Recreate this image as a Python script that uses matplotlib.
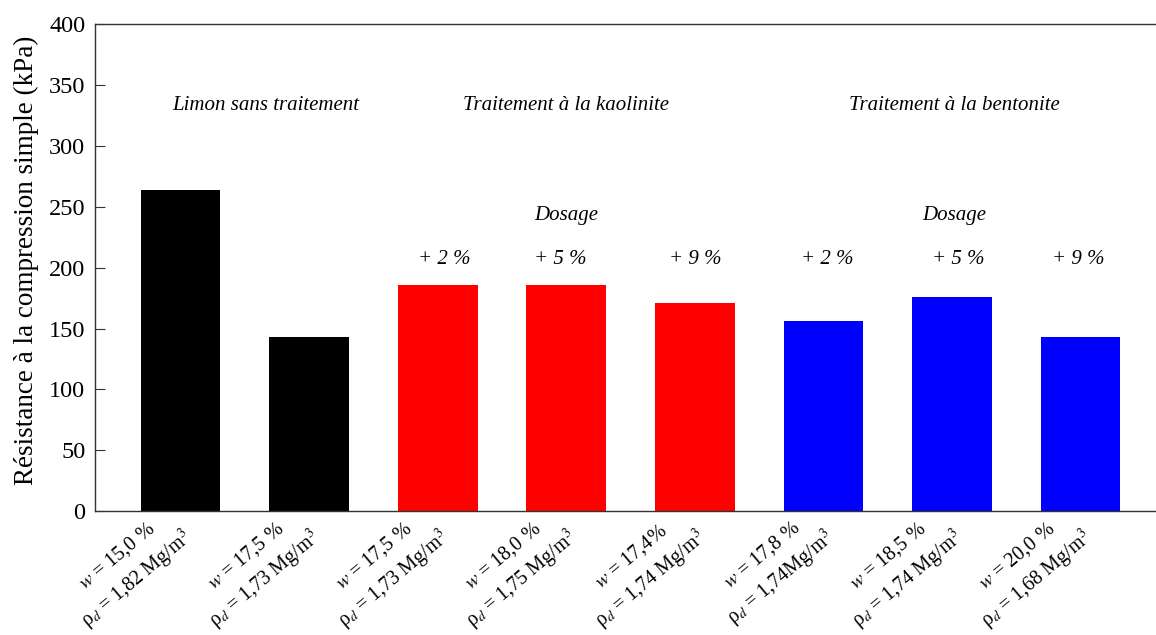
import matplotlib
matplotlib.use("Agg")
import matplotlib.pyplot as plt

plt.rcParams['font.family'] = ['Liberation Serif', 'DejaVu Serif']
plt.rcParams['mathtext.fontset'] = 'stix'

# compressive strength per sample (kPa)
water = ["15,0 %", "17,5 %", "17,5 %", "18,0 %", "17,4%", "17,8 %", "18,5 %", "20,0 %"]
density = ["1,82 Mg/m$^3$", "1,73 Mg/m$^3$", "1,73 Mg/m$^3$", "1,75 Mg/m$^3$",
           "1,74 Mg/m$^3$", "1,74Mg/m$^3$", "1,74 Mg/m$^3$", "1,68 Mg/m$^3$"]
strength = [264, 143, 186, 186, 171, 156, 176, 143]
colors = ["black", "black", "red", "red", "red", "blue", "blue", "blue"]

groups = ["Limon sans traitement", "Traitement à la kaolinite", "Traitement à la bentonite"]
group_x = [1.66, 4.0, 7.02]
dosage_x = [4.0, 7.02]
doses = ["+ 2 %", "+ 5 %", "+ 9 %", "+ 2 %", "+ 5 %", "+ 9 %"]
dose_x = [3.05, 3.95, 5.0, 6.03, 7.05, 7.98]

x = list(range(1, len(strength) + 1))
labels = [f"$w$ = {w}\nρ$_d$ = {d}" for w, d in zip(water, density)]

fig = plt.figure(figsize=(11.56, 6.35), dpi=100)
ax = fig.add_axes([0.0822, 0.195, 1.0087 - 0.0822, 0.962 - 0.195])

ax.bar(x, strength, width=0.62, color=colors)

ax.set_xlim(0.335, 8.665)
ax.set_ylim(0, 400)
ax.set_yticks(range(0, 401, 50))
ax.set_xticks(x)
ax.set_xticklabels(labels, rotation=40, ha='right', va='center',
                   rotation_mode='anchor', multialignment='center',
                   fontsize=14.5, linespacing=1.35)
ax.tick_params(axis='x', length=0, pad=10)
ax.tick_params(axis='y', direction='in', length=7, right=True, labelsize=17.5,
               pad=7, color='#333333')

for s in ax.spines.values():
    s.set_color('#333333')
    s.set_linewidth(1.0)

ax.set_ylabel("Résistance à la compression simple (kPa)", fontsize=19.5)
ax.yaxis.set_label_coords(-0.052, 0.516)

for g, gx in zip(groups, group_x):
    ax.text(gx, 333, g, ha='center', va='center', style='italic', fontsize=15)
for dx in dosage_x:
    ax.text(dx, 243, "Dosage", ha='center', va='center', style='italic', fontsize=15)
for d, dx in zip(doses, dose_x):
    ax.text(dx, 207, d, ha='center', va='center', style='italic', fontsize=15)

fig.savefig("out.png", dpi=100)
